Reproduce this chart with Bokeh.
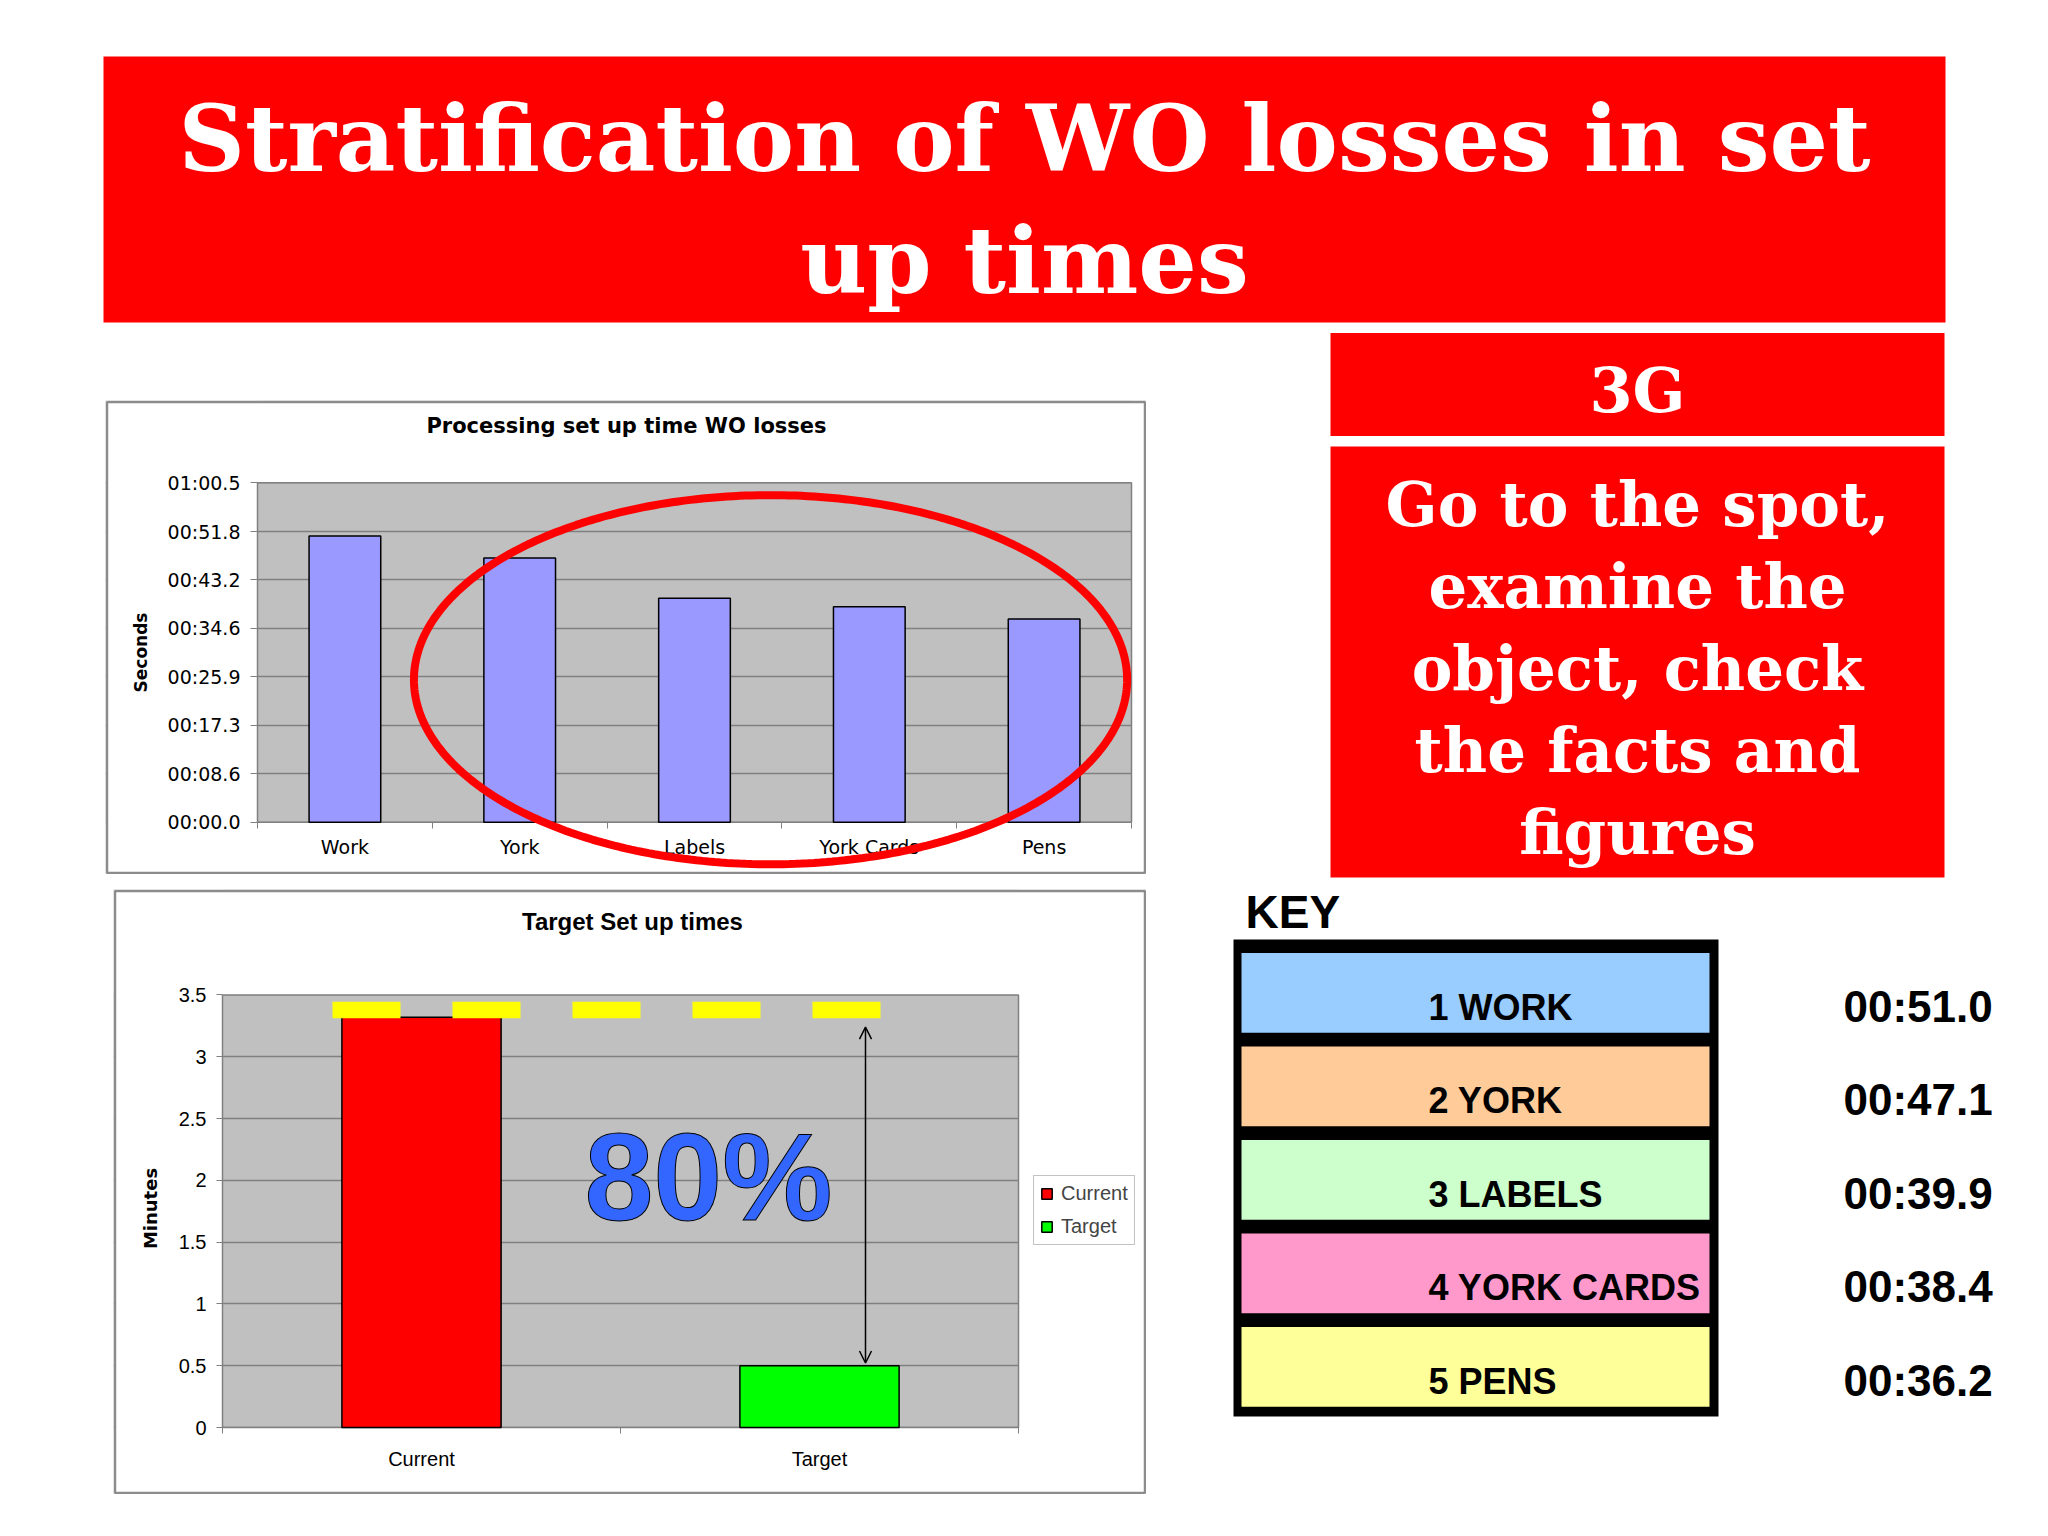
import numpy as np
from bokeh.plotting import figure
from bokeh.models import (Range1d, FixedTicker, ColumnDataSource, Label, PolyAnnotation,
                          Arrow, OpenHead, Legend, LegendItem, Spacer)
from bokeh.layouts import column, row
from bokeh.core.properties import value
from bokeh.embed import file_html
from bokeh.resources import INLINE

# ---------------- data ----------------
slide_title_lines = ["Stratification of WO losses in set", "up times"]
badge_text = "3G"
badge_lines = ["Go to the spot,", "examine the", "object, check", "the facts and", "figures"]

loss_title = "Processing set up time WO losses"
loss_axis_title = "Seconds"
loss_categories = ["Work", "York", "Labels", "York Cards", "Pens"]
loss_seconds = [51.0, 47.1, 39.9, 38.4, 36.2]
loss_tick_labels = ["00:00.0", "00:08.6", "00:17.3", "00:25.9",
                    "00:34.6", "00:43.2", "00:51.8", "01:00.5"]

target_title = "Target Set up times"
target_axis_title = "Minutes"
target_categories = ["Current", "Target"]
target_minutes = [3.32, 0.5]
target_colors = ["#ff0000", "#00ff00"]
target_tick_labels = ["0", "0.5", "1", "1.5", "2", "2.5", "3", "3.5"]
target_reduction_label = "80%"
target_band_level = 3.377      # yellow dashed target band (minutes)
arrow_from = 0.522             # arrow ends (minutes)
arrow_to = 3.239

key_title = "KEY"
key_labels = ["1 WORK", "2 YORK", "3 LABELS", "4 YORK CARDS", "5 PENS"]
key_colors = ["#99ccff", "#ffcc99", "#ccffcc", "#ff99cc", "#ffff99"]


def to_seconds(lbl):
    m, s = lbl.split(":")
    return int(m) * 60 + float(s)


def to_mmss(sec):
    return "%02d:%04.1f" % (int(sec // 60), sec % 60)


key_values = [to_mmss(s) for s in loss_seconds]

RED = "#ff0000"
SERIF = value("DejaVu Serif")
SANS = value("Liberation Sans")
BASE_SHIFT = 0.36   # em offset of the alphabetic baseline as drawn


def bl(y, fs):
    """page-y of a text anchor so that its baseline lands on page-y `y`"""
    return y - BASE_SHIFT * fs


def bare(p):
    p.axis.visible = False
    p.grid.visible = False
    p.outline_line_color = None
    p.background_fill_color = "white"
    p.border_fill_color = "white"


class Chart:
    """maps page pixels <-> data for a chart whose frame fills its whole canvas"""

    def __init__(self, canvas, plot, data_x, data_y):
        self.cl, self.ct, self.cr, self.cb = canvas
        self.pl, self.pt, self.pr, self.pb = plot
        (self.x0, self.x1), (self.y0, self.y1) = data_x, data_y
        self.sx = (self.x1 - self.x0) / (self.pr - self.pl)
        self.sy = (self.y1 - self.y0) / (self.pb - self.pt)
        self.xr = Range1d(self.x0 - (self.pl - self.cl) * self.sx, self.x1 + (self.cr - self.pr) * self.sx)
        self.yr = Range1d(self.y0 - (self.cb - self.pb) * self.sy, self.y1 + (self.pt - self.ct) * self.sy)

    def dx(self, px):
        return self.x0 + (px - self.pl) * self.sx

    def dy(self, py):
        return self.y0 + (self.pb - py) * self.sy

    def figure(self):
        p = figure(width=int(self.cr - self.cl), height=int(self.cb - self.ct),
                   x_range=self.xr, y_range=self.yr, min_border=0,
                   output_backend="svg", toolbar_location=None)
        p.background_fill_color = "#c0c0c0"
        p.border_fill_color = "white"
        p.outline_line_color = None
        p.xgrid.visible = False
        p.ygrid.grid_line_color = "#808080"
        p.ygrid.grid_line_width = 1.5
        return p

    def mask(self, p):
        xs, xe, ys, ye = self.xr.start, self.xr.end, self.yr.start, self.yr.end
        # white surround of the grey plot area (bands overlap, so no seams)
        p.quad(left=[xs, xs, xs, self.x1], right=[xe, xe, self.x0, xe],
               bottom=[self.y1, ys, ys, ys], top=[ye, self.y0, ye, ye],
               fill_color="white", line_color=None)
        p.quad(left=[self.x0], right=[self.x1], bottom=[self.y0], top=[self.y1],
               fill_color=None, line_color="#808080", line_width=1.5)
        # outer chart border, kept fully inside the canvas
        ix, iy = 1.5 * self.sx, 1.5 * self.sy
        p.quad(left=[xs + ix], right=[xe - ix], bottom=[ys + iy], top=[ye - iy],
               fill_color=None, line_color="#8c8c8c", line_width=2.5)


def style_axes(p, font, size):
    for ax in (p.xaxis[0], p.yaxis[0]):
        ax.fixed_location = 0
        ax.axis_line_color = None
        ax.major_tick_line_color = "#808080"
        ax.minor_tick_line_color = "#808080"
        ax.major_label_text_font = font
        ax.major_label_text_font_size = size
        ax.major_label_text_color = "black"
        ax.major_tick_in = 0
        ax.minor_tick_in = 0


# ---------------- title banner ----------------
pt = figure(width=2040, height=330, x_range=Range1d(0, 2040), y_range=Range1d(330, 0),
            min_border=0, output_backend="svg", toolbar_location=None)
bare(pt)
pt.quad(left=[103], right=[1945], top=[56], bottom=[322], fill_color=RED, line_color=None)
pt.text(x=[1024, 1024], y=[bl(172, 92), bl(294, 92)], text=slide_title_lines, text_align="center",
        text_baseline="alphabetic", text_font=SERIF, text_font_style="bold",
        text_font_size="92px", text_color="white")

# ---------------- chart 1 : processing losses ----------------
c1 = Chart(canvas=(105, 400, 1146, 874), plot=(257, 482.3, 1131, 821.7),
           data_x=(0, len(loss_categories)), data_y=(0, to_seconds(loss_tick_labels[-1])))
p1 = c1.figure()
c1.mask(p1)
style_axes(p1, "DejaVu Sans", "19px")

ticks1 = [to_seconds(l) for l in loss_tick_labels]
p1.yaxis.ticker = FixedTicker(ticks=ticks1)
p1.ygrid.ticker = FixedTicker(ticks=ticks1)
p1.yaxis.major_label_overrides = {t: l for t, l in zip(ticks1, loss_tick_labels)}
p1.yaxis.major_tick_out = 7
p1.yaxis.major_label_standoff = 10

xpos1 = [i + 0.5 for i in range(len(loss_categories))]
p1.xaxis.ticker = FixedTicker(ticks=xpos1, minor_ticks=list(range(len(loss_categories) + 1)))
p1.xaxis.major_label_overrides = {x: c for x, c in zip(xpos1, loss_categories)}
p1.xaxis.major_tick_out = 0
p1.xaxis.minor_tick_out = 6
p1.xaxis.major_label_standoff = 8

p1.vbar(x=xpos1, top=loss_seconds, width=0.41, fill_color="#9999ff",
        line_color="black", line_width=1.5)

p1.add_layout(Label(x=c1.dx(626), y=c1.dy(bl(433, 21)), text=loss_title, text_align="center",
                    text_baseline="alphabetic", text_font="DejaVu Sans", text_font_style="bold",
                    text_font_size="21px", text_color="black"))
p1.add_layout(Label(x=c1.dx(150), y=c1.dy(652), text=loss_axis_title, angle=np.pi / 2,
                    text_align="center", text_baseline="bottom", text_font="DejaVu Sans",
                    text_font_style="bold", text_font_size="17px", text_color="black"))

# red highlight ellipse around York..Pens
ell_cx, ell_cy, ell_rx, ell_ry = 2.935, 25.4, 2.04, 32.9
t = np.linspace(0, 2 * np.pi, 361)
p1.add_layout(PolyAnnotation(xs=list(ell_cx + ell_rx * np.cos(t)), ys=list(ell_cy + ell_ry * np.sin(t)),
                             fill_color=None, fill_alpha=0, line_color=RED, line_alpha=1.0,
                             line_width=8))

# ---------------- chart 2 : target ----------------
c2 = Chart(canvas=(113, 889, 1146, 1494), plot=(222, 994.4, 1018, 1427),
           data_x=(0, len(target_categories)), data_y=(0, float(target_tick_labels[-1])))
p2 = c2.figure()
c2.mask(p2)
style_axes(p2, "Liberation Sans", "20px")

ticks2 = [float(l) for l in target_tick_labels]
p2.yaxis.ticker = FixedTicker(ticks=ticks2)
p2.ygrid.ticker = FixedTicker(ticks=ticks2)
p2.yaxis.major_label_overrides = {t: l for t, l in zip(ticks2, target_tick_labels)}
p2.yaxis.major_tick_out = 6
p2.yaxis.major_label_standoff = 10

xpos2 = [i + 0.5 for i in range(len(target_categories))]
p2.xaxis.ticker = FixedTicker(ticks=xpos2, minor_ticks=list(range(len(target_categories) + 1)))
p2.xaxis.major_label_overrides = {x: c for x, c in zip(xpos2, target_categories)}
p2.xaxis.major_tick_out = 0
p2.xaxis.minor_tick_out = 6
p2.xaxis.major_label_standoff = 14

src2 = ColumnDataSource(dict(x=xpos2, val=target_minutes, color=target_colors))
bars2 = p2.vbar(x="x", top="val", width=0.4, fill_color="color", line_color="black",
                line_width=1.5, source=src2)

# yellow dashed target band and the reduction arrow
p2.line(x=[c2.dx(332), c2.dx(880)], y=[target_band_level, target_band_level], line_color="#ffff00",
        line_width=16.5, line_dash="68 52", line_cap="butt")
p2.add_layout(Arrow(start=OpenHead(size=12, line_width=1.5), end=OpenHead(size=12, line_width=1.5),
                    x_start=c2.dx(865), y_start=arrow_from, x_end=c2.dx(865), y_end=arrow_to,
                    line_width=1.5, line_color="black"))
p2.add_layout(Label(x=c2.dx(708), y=c2.dy(bl(1221, 124)), text=target_reduction_label,
                    text_align="center", text_baseline="alphabetic", text_font="Liberation Sans",
                    text_font_style="bold", text_font_size="124px", text_color="#3366ff",
                    text_outline_color="black"))

p2.add_layout(Label(x=c2.dx(632), y=c2.dy(bl(930, 24)), text=target_title, text_align="center",
                    text_baseline="alphabetic", text_font="Liberation Sans", text_font_style="bold",
                    text_font_size="24px", text_color="black"))
p2.add_layout(Label(x=c2.dx(160), y=c2.dy(1208), text=target_axis_title, angle=np.pi / 2,
                    text_align="center", text_baseline="bottom", text_font="DejaVu Sans",
                    text_font_style="bold", text_font_size="18px", text_color="black"))

legend = Legend(items=[LegendItem(label=c, renderers=[bars2], index=i)
                       for i, c in enumerate(target_categories)],
                location=(1033 - 113, 1494 - 1245), margin=0, padding=6, spacing=10,
                label_standoff=8, glyph_width=13, glyph_height=13,
                label_text_font="Liberation Sans", label_text_font_size="20px",
                border_line_color="#888888", border_line_width=1.5,
                background_fill_color="white")
p2.add_layout(legend)

# ---------------- right column: 3G and key ----------------
pr = figure(width=894, height=1198, x_range=Range1d(1146, 2040), y_range=Range1d(1528, 330),
            min_border=0, output_backend="svg", toolbar_location=None)
bare(pr)
pr.quad(left=[1330, 1330], right=[1944, 1944], top=[332.5, 446], bottom=[435.5, 877],
        fill_color=RED, line_color=None)
pr.text(x=[1637], y=[bl(412, 62)], text=[badge_text], text_align="center", text_baseline="alphabetic",
        text_font=SERIF, text_font_style="bold", text_font_size="62px", text_color="white")
line_pitch = 82
pr.text(x=[1637] * len(badge_lines), y=[bl(526 + i * line_pitch, 61) for i in range(len(badge_lines))],
        text=badge_lines, text_align="center", text_baseline="alphabetic",
        text_font=SERIF, text_font_style="bold", text_font_size="61px", text_color="white")

pr.text(x=[1245], y=[bl(928, 46)], text=[key_title], text_align="left", text_baseline="alphabetic",
        text_font=SANS, text_font_style="bold", text_font_size="46px", text_color="black")
pr.quad(left=[1233], right=[1718], top=[939], bottom=[1416], fill_color="black", line_color=None)
row_pitch = 93.5
row_tops = [952.6 + i * row_pitch for i in range(len(key_labels))]
pr.quad(left=[1241] * len(key_labels), right=[1709] * len(key_labels), top=row_tops,
        bottom=[tp + 79.6 for tp in row_tops], fill_color=key_colors, line_color=None)
pr.text(x=[1428] * len(key_labels), y=[bl(tp + 67, 36) for tp in row_tops], text=key_labels,
        text_align="left", text_baseline="alphabetic", text_font=SANS, text_font_style="bold",
        text_font_size="36px", text_color="black")
pr.text(x=[1843] * len(key_values), y=[bl(tp + 69, 44) for tp in row_tops], text=key_values,
        text_align="left", text_baseline="alphabetic", text_font=SANS, text_font_style="bold",
        text_font_size="44px", text_color="black")

# ---------------- layout ----------------
left_col = column(
    Spacer(width=1146, height=70),
    row(Spacer(width=105, height=474), p1),
    Spacer(width=1146, height=15),
    row(Spacer(width=113, height=605), p2),
)
layout = column(pt, row(left_col, pr))

open("out.html", "w").write(file_html(layout, INLINE))
